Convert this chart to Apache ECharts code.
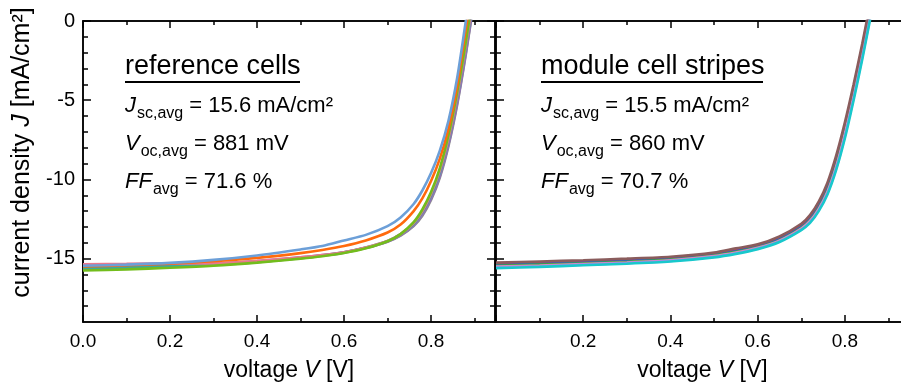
<!DOCTYPE html>
<html>
<head>
<meta charset="utf-8">
<script src="https://cdn.jsdelivr.net/npm/echarts@6/dist/echarts.min.js"></script>
<style>
  html, body { margin: 0; padding: 0; background: #fff; }
  #chart { width: 901px; height: 382px; }
</style>
</head>
<body>
<div id="chart"></div>
<script>
// ---- tick values ----
const xMajorTicks = [0, 0.2, 0.4, 0.6, 0.8];
const xMinorTicks = [0.1, 0.3, 0.5, 0.7, 0.9];
const xLabelsLeft = [0, 0.2, 0.4, 0.6, 0.8];
const xLabelsRight = [0.2, 0.4, 0.6, 0.8];
const yMajorTicks = [-15, -10, -5, 0];
const yMinorTicks = [-18, -17, -16, -14, -13, -12, -11, -9, -8, -7, -6, -4, -3, -2, -1];

// ---- reference cells (left panel) ----
const voltLeft = [0, 0.1, 0.2, 0.3, 0.4, 0.5, 0.55, 0.6, 0.65, 0.7, 0.73, 0.76, 0.78, 0.8, 0.82, 0.84, 0.86, 0.88, 0.9];
const refGray   = [-15.65, -15.6, -15.5, -15.4, -15.22, -14.98, -14.82, -14.62, -14.33, -13.93, -13.55, -12.95, -12.3, -11.3, -9.9, -7.9, -5.3, -2.1, 1.5];
const refPurple = [-15.55, -15.5, -15.42, -15.32, -15.15, -14.92, -14.78, -14.6, -14.32, -13.92, -13.52, -12.9, -12.2, -11.2, -9.8, -7.8, -5.2, -2.0, 1.6];
const refTeal   = [-15.6, -15.55, -15.48, -15.38, -15.2, -14.95, -14.8, -14.6, -14.3, -13.88, -13.45, -12.8, -12.05, -11.0, -9.55, -7.5, -4.8, -1.6, 1.9];
const refPink   = [-15.35, -15.33, -15.3, -15.3, -15.15, -14.92, -14.78, -14.6, -14.3, -13.88, -13.45, -12.75, -12.0, -10.9, -9.45, -7.4, -4.7, -1.5, 2.0];
const refGreen  = [-15.75, -15.68, -15.58, -15.45, -15.25, -15.0, -14.85, -14.65, -14.35, -13.9, -13.45, -12.7, -11.9, -10.8, -9.3, -7.2, -4.5, -1.3, 2.3];
const refOrange = [-15.5, -15.42, -15.32, -15.17, -14.95, -14.65, -14.45, -14.2, -13.85, -13.35, -12.85, -12.0, -11.2, -10.1, -8.7, -6.8, -4.1, -0.5, 3.0];
const refBlue   = [-15.45, -15.38, -15.27, -15.08, -14.8, -14.42, -14.2, -13.85, -13.5, -12.95, -12.4, -11.55, -10.7, -9.6, -8.2, -6.3, -3.6, 0.0, 3.5];

// ---- module cell stripes (right panel) ----
const voltRight = [0, 0.1, 0.2, 0.3, 0.4, 0.5, 0.55, 0.6, 0.65, 0.7, 0.72, 0.74, 0.76, 0.78, 0.8, 0.82, 0.84, 0.86, 0.88];
const modGray   = [-15.5, -15.4, -15.28, -15.15, -15.0, -14.72, -14.48, -14.18, -13.7, -12.88, -12.35, -11.5, -10.35, -8.7, -6.6, -4.2, -1.6, 1.2, 4.1];
const modRed    = [-15.35, -15.28, -15.18, -15.08, -14.96, -14.72, -14.46, -14.18, -13.72, -12.92, -12.4, -11.6, -10.45, -8.8, -6.7, -4.3, -1.7, 1.1, 4.0];
const modBlue   = [-15.4, -15.33, -15.24, -15.14, -15.0, -14.76, -14.52, -14.24, -13.78, -13.0, -12.5, -11.7, -10.55, -8.95, -6.85, -4.45, -1.85, 0.95, 3.8];
const modGreen  = [-15.45, -15.38, -15.3, -15.2, -15.06, -14.8, -14.57, -14.28, -13.83, -13.06, -12.57, -11.8, -10.7, -9.1, -7.0, -4.6, -2.0, 0.8, 3.7];
const modPink   = [-15.5, -15.43, -15.34, -15.24, -15.1, -14.84, -14.62, -14.32, -13.86, -13.1, -12.62, -11.86, -10.78, -9.2, -7.12, -4.72, -2.12, 0.68, 3.58];
const modPurple = [-15.55, -15.48, -15.38, -15.28, -15.14, -14.88, -14.66, -14.36, -13.9, -13.15, -12.68, -11.92, -10.85, -9.3, -7.25, -4.85, -2.25, 0.55, 3.45];
const modCyan   = [-15.6, -15.52, -15.42, -15.32, -15.18, -14.92, -14.7, -14.4, -13.95, -13.2, -12.75, -12.0, -10.95, -9.4, -7.4, -5.0, -2.4, 0.4, 3.3];
const modBrown  = [-15.25, -15.18, -15.1, -15.0, -14.88, -14.62, -14.35, -14.1, -13.6, -12.8, -12.25, -11.4, -10.2, -8.5, -6.4, -4.0, -1.4, 1.4, 4.2];

// ---- annotation text ----
const leftTitle = 'reference cells';
const leftStats = ['15.6 mA/cm²', '881 mV', '71.6 %'];
const rightTitle = 'module cell stripes';
const rightStats = ['15.5 mA/cm²', '860 mV', '70.7 %'];

const FONT = "'Liberation Sans', Arial, Helvetica, sans-serif";
const X_MAX = 0.947;
const Y_MIN = -19;
const BLACK = '#000';

const chart = echarts.init(document.getElementById('chart'));

function pairs(v, j) {
  return v.map((x, i) => [x, j[i]]);
}

function xAxis(grid, pos, ticks, len, labels, withName) {
  const ax = {
    type: 'value', gridIndex: grid, position: pos, min: 0, max: X_MAX,
    axisLine: { show: true, onZero: false, lineStyle: { color: BLACK, width: 1.5 } },
    axisTick: { show: true, inside: true, length: len, customValues: ticks, lineStyle: { color: BLACK, width: 1.5 } },
    axisLabel: labels
      ? { show: true, customValues: labels, margin: 10, color: BLACK, fontFamily: FONT, fontSize: 19,
          formatter: v => v.toFixed(1) }
      : { show: false },
    splitLine: { show: false },
    minorTick: { show: false }
  };
  if (withName) {
    ax.name = 'voltage {i|V} [V]';
    ax.nameLocation = 'middle';
    ax.nameGap = 37;
    ax.nameMoveOverlap = false;
    ax.nameTextStyle = {
      color: BLACK, fontFamily: FONT, fontSize: 23, verticalAlign: 'top',
      rich: { i: { fontStyle: 'italic', fontFamily: FONT, fontSize: 23, color: BLACK } }
    };
  }
  return ax;
}

function yAxis(grid, pos, ticks, len, labels, withName) {
  const ax = {
    type: 'value', gridIndex: grid, position: pos, min: Y_MIN, max: 0,
    axisLine: { show: true, onZero: false, lineStyle: { color: BLACK, width: 1.5 } },
    axisTick: { show: true, inside: true, length: len, customValues: ticks, lineStyle: { color: BLACK, width: 1.5 } },
    axisLabel: labels
      ? { show: true, customValues: labels, margin: 8, color: BLACK, fontFamily: FONT, fontSize: 20 }
      : { show: false },
    splitLine: { show: false },
    minorTick: { show: false }
  };
  if (withName) {
    ax.name = 'current density {i|J} [mA/cm²]';
    ax.nameLocation = 'middle';
    ax.nameGap = 48;
    ax.nameMoveOverlap = false;
    ax.nameTextStyle = {
      color: BLACK, fontFamily: FONT, fontSize: 25, padding: [0, 0, 0, 38],
      rich: { i: { fontStyle: 'italic', fontFamily: FONT, fontSize: 25, color: BLACK } }
    };
  }
  return ax;
}

function curve(name, grid, v, j, color) {
  return {
    name, type: 'line', xAxisIndex: grid === 0 ? 0 : 4, yAxisIndex: grid === 0 ? 0 : 4,
    data: pairs(v, j), showSymbol: false, symbol: 'none', smooth: 0.25,
    clip: true, lineStyle: { color, width: 2.6 }, emphasis: { disabled: true }, silent: true
  };
}

const sub = { fontFamily: FONT, fontSize: 16, color: BLACK, padding: [16, 0, 0, 1] };
const main = { fontFamily: FONT, fontSize: 22, color: BLACK };
const ital = { fontFamily: FONT, fontSize: 22, color: BLACK, fontStyle: 'italic' };
const rich = { i: ital, s: sub, n: main };

function statBlock(x, title, stats, underlineEnd) {
  return [
    { type: 'text', x: x, y: 67, silent: true,
      style: { text: title, font: '27px ' + FONT, fill: BLACK, verticalAlign: 'middle' } },
    { type: 'line', silent: true, shape: { x1: x, y1: 82, x2: underlineEnd, y2: 82 },
      style: { stroke: BLACK, lineWidth: 2 } },
    { type: 'text', x: x, y: 106, silent: true,
      style: { text: '{i|J}{s|sc,avg}{n| = ' + stats[0] + '}', rich: rich, verticalAlign: 'middle' } },
    { type: 'text', x: x, y: 144, silent: true,
      style: { text: '{i|V}{s|oc,avg}{n| = ' + stats[1] + '}', rich: rich, verticalAlign: 'middle' } },
    { type: 'text', x: x, y: 182, silent: true,
      style: { text: '{i|FF}{s|avg}{n| = ' + stats[2] + '}', rich: rich, verticalAlign: 'middle' } }
  ];
}

chart.setOption({
  animation: false,
  backgroundColor: '#fff',
  textStyle: { fontFamily: FONT },
  grid: [
    { left: 83, top: 21, width: 412, height: 301, containLabel: false, outerBoundsMode: 'none' },
    { left: 496, top: 21, width: 413, height: 301, containLabel: false, outerBoundsMode: 'none' }
  ],
  xAxis: [
    xAxis(0, 'bottom', xMajorTicks, 7, xLabelsLeft, true),
    xAxis(0, 'bottom', xMinorTicks, 4, null, false),
    xAxis(0, 'top', xMajorTicks, 7, null, false),
    xAxis(0, 'top', xMinorTicks, 4, null, false),
    xAxis(1, 'bottom', xMajorTicks, 7, xLabelsRight, true),
    xAxis(1, 'bottom', xMinorTicks, 4, null, false),
    xAxis(1, 'top', xMajorTicks, 7, null, false),
    xAxis(1, 'top', xMinorTicks, 4, null, false)
  ],
  yAxis: [
    yAxis(0, 'left', yMajorTicks, 8, yMajorTicks, true),
    yAxis(0, 'left', yMinorTicks, 5, null, false),
    yAxis(0, 'right', yMajorTicks, 8, null, false),
    yAxis(0, 'right', yMinorTicks, 5, null, false),
    yAxis(1, 'left', yMajorTicks, 8, null, false),
    yAxis(1, 'left', yMinorTicks, 5, null, false)
  ],
  series: [
    curve('ref gray', 0, voltLeft, refGray, '#8c8c8c'),
    curve('ref purple', 0, voltLeft, refPurple, '#8f73b8'),
    curve('ref teal', 0, voltLeft, refTeal, '#3ea89c'),
    curve('ref pink', 0, voltLeft, refPink, '#e8788c'),
    curve('ref green', 0, voltLeft, refGreen, '#72bd1c'),
    curve('ref orange', 0, voltLeft, refOrange, '#ff6a0d'),
    curve('ref blue', 0, voltLeft, refBlue, '#6c9fd8'),
    curve('mod gray', 1, voltRight, modGray, '#808080'),
    curve('mod red', 1, voltRight, modRed, '#e8383c'),
    curve('mod blue', 1, voltRight, modBlue, '#2f4fe0'),
    curve('mod green', 1, voltRight, modGreen, '#3aa83a'),
    curve('mod pink', 1, voltRight, modPink, '#e08ab8'),
    curve('mod purple', 1, voltRight, modPurple, '#b486e6'),
    curve('mod cyan', 1, voltRight, modCyan, '#18c8cc'),
    curve('mod brown', 1, voltRight, modBrown, '#8a5c5c')
  ],
  graphic: [].concat(
    statBlock(125, leftTitle, leftStats, 300),
    statBlock(541, rightTitle, rightStats, 763)
  )
});
</script>
</body>
</html>
